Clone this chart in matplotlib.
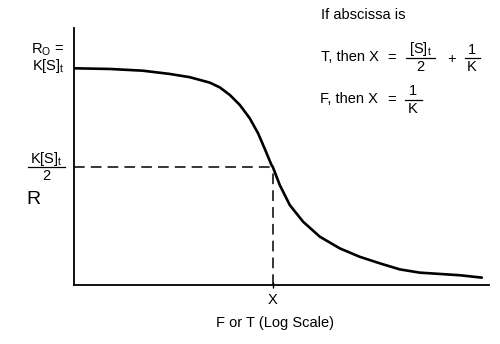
import matplotlib
matplotlib.use("Agg")
import matplotlib.pyplot as plt
from matplotlib.lines import Line2D

plt.rcParams['font.family'] = ['Liberation Sans', 'DejaVu Sans']
plt.rcParams['mathtext.fontset'] = 'custom'
plt.rcParams['mathtext.rm'] = 'Liberation Sans'
plt.rcParams['mathtext.it'] = 'Liberation Sans'
plt.rcParams['mathtext.bf'] = 'Liberation Sans:bold'

# abscissa (F or T, log scale) and response R (R0 = 1)
conc = [0.0104, 0.0234, 0.0501, 0.0933, 0.148, 0.234, 0.295, 0.372, 0.468,
        0.589, 0.713, 0.832, 0.970, 1.0, 1.175, 1.479, 2.009, 2.951, 4.677,
        7.413, 11.75, 18.62, 29.51, 46.77, 74.13, 123.0]
resp = [1.000, 0.997, 0.989, 0.974, 0.959, 0.934, 0.912, 0.877, 0.831,
        0.769, 0.700, 0.628, 0.554, 0.545, 0.461, 0.369, 0.292, 0.223, 0.169,
        0.130, 0.100, 0.072, 0.057, 0.051, 0.045, 0.034]
x_mid = 1.0
r_half = 0.545
x_lim = (0.0103, 145.0)
y_lim = (0.0, 1.186)

W, H = 500, 344
FS = 10.5
fig = plt.figure(figsize=(W / 100, H / 100), dpi=100)
ax = fig.add_axes([74 / W, 1 - 285 / H, 415 / W, 257 / H])
ax.set_xscale('log')
ax.set_xlim(*x_lim)
ax.set_ylim(*y_lim)
ax.plot(conc, resp, color='black', lw=1.9, solid_capstyle='round', solid_joinstyle='round')
ax.plot([x_lim[0], x_mid], [r_half, r_half], color='black', lw=1.1, dashes=(7, 4))
ax.plot([x_mid, x_mid], [0, r_half], color='black', lw=1.1, dashes=(7, 4))

for s in ['top', 'right']:
    ax.spines[s].set_visible(False)
for s in ['left', 'bottom']:
    ax.spines[s].set_linewidth(1.3)
ax.set_xticks([x_mid])
ax.set_xticks([], minor=True)
ax.set_xticklabels([])
ax.set_yticks([])
ax.tick_params(axis='x', length=4, width=1.0, direction='inout')


def ftext(x, y, s, **kw):
    kw.setdefault('fontsize', FS)
    fig.text(x / W, 1 - y / H, s, **kw)


def frac(xc, ybar, num, den, x0, x1):
    ftext(xc, ybar - 8.5, num, ha='center', va='center')
    ftext(xc, ybar + 9, den, ha='center', va='center')
    fig.add_artist(Line2D([x0 / W, x1 / W], [1 - ybar / H, 1 - ybar / H],
                          color='black', lw=0.9, transform=fig.transFigure))


ftext(64, 50, r'R$_\mathrm{O}$ =', ha='right', va='center')
ftext(65, 66, r'K[S]$_\mathrm{t}$', ha='right', va='center')
frac(46, 167, r'K[S]$_\mathrm{t}$', '2', 28, 65)
ftext(26, 199, 'R', ha='left', va='center', fontsize=14)

ftext(321, 15, 'If abscissa is', ha='left', va='center')
ftext(321, 57, 'T, then X', ha='left', va='center')
ftext(392, 58, '=', ha='center', va='center')
frac(420, 58, r'[S]$_\mathrm{t}$', '2', 406, 435)
ftext(452, 59, '+', ha='center', va='center')
frac(472, 58, '1', 'K', 465, 480)
ftext(320, 99, 'F, then X', ha='left', va='center')
ftext(392, 100, '=', ha='center', va='center')
frac(413, 100, '1', 'K', 405, 422)

ftext(273, 300, 'X', ha='center', va='center')
ftext(275, 323, 'F or T (Log Scale)', ha='center', va='center')

fig.savefig('out.png', dpi=100)
